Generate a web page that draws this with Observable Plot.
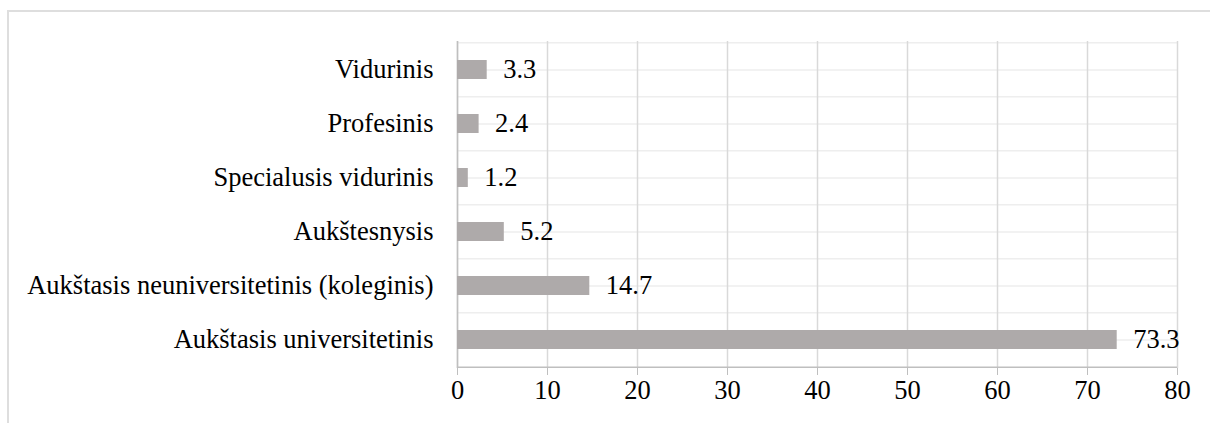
<!DOCTYPE html>
<html>
<head>
<meta charset="utf-8">
<script src="https://cdn.jsdelivr.net/npm/d3@7"></script>
<script src="https://cdn.jsdelivr.net/npm/@observablehq/plot@0.6"></script>
<style>
  html, body { margin: 0; padding: 0; background: #fff; }
  #wrap { position: relative; width: 1210px; height: 423px; overflow: hidden; }
  #border { position: absolute; left: 7px; top: 10px; right: 0; bottom: 0;
            border-top: 2px solid #dedede; border-left: 2px solid #dedede; }
  #chart { position: absolute; left: 0; top: 0; }
  #chart svg, #chart svg text { font-family: "Liberation Serif", "Times New Roman", serif !important; }
</style>
</head>
<body>
<div id="wrap"><div id="border"></div><div id="chart"></div></div>
<script>
// Education level (top to bottom) and share, %
const categories = [
  "Vidurinis",
  "Profesinis",
  "Specialusis vidurinis",
  "Aukštesnysis",
  "Aukštasis neuniversitetinis (koleginis)",
  "Aukštasis universitetinis"
];
const values = [3.3, 2.4, 1.2, 5.2, 14.7, 73.3];
const xTicks = [0, 10, 20, 30, 40, 50, 60, 70, 80];

const data = categories.map((c, i) => ({category: c, value: values[i]}));

const W = 1210, H = 423;
const mTop = 41, mBottom = 55, mLeft = 457, mRight = 33;
const half = (H - mTop - mBottom) / categories.length / 2;
const FS = 26.5;

const chart = Plot.plot({
  width: W,
  height: H,
  marginTop: mTop,
  marginBottom: mBottom,
  marginLeft: mLeft,
  marginRight: mRight,
  style: {fontSize: FS + "px", background: "transparent"},
  x: {domain: [0, 80]},
  y: {domain: categories, paddingInner: 0.65, paddingOuter: 0.325},
  marks: [
    // horizontal guides through each band centre and along its edges
    Plot.ruleY(categories, {stroke: "#eeeeee", strokeWidth: 1.5}),
    Plot.ruleY(categories, {dy: -half, stroke: "#eeeeee", strokeWidth: 1.5}),
    Plot.gridX(xTicks, {stroke: "#d9d9d9", strokeOpacity: 1, strokeWidth: 1.5}),
    Plot.ruleY([categories[categories.length - 1]], {dy: half, stroke: "#bfbfbf", strokeWidth: 1.5}),
    Plot.ruleX([0], {stroke: "#bfbfbf", strokeWidth: 1.5}),
    Plot.barX(data, {y: "category", x: "value", fill: "#aeaaaa"}),
    Plot.text(data, {y: "category", x: "value", text: d => d.value.toFixed(1),
      textAnchor: "start", dx: 16, fill: "#000", fontSize: FS}),
    Plot.axisY({tickSize: 0, tickPadding: 24, fontSize: FS, fill: "#000", label: null}),
    Plot.axisX(xTicks, {tickSize: 7, tickPadding: 5, stroke: "#bfbfbf", fill: "#000", fontSize: FS, label: null,
      tickFormat: d => String(d)})
  ]
});
document.getElementById("chart").appendChild(chart);
</script>
</body>
</html>
